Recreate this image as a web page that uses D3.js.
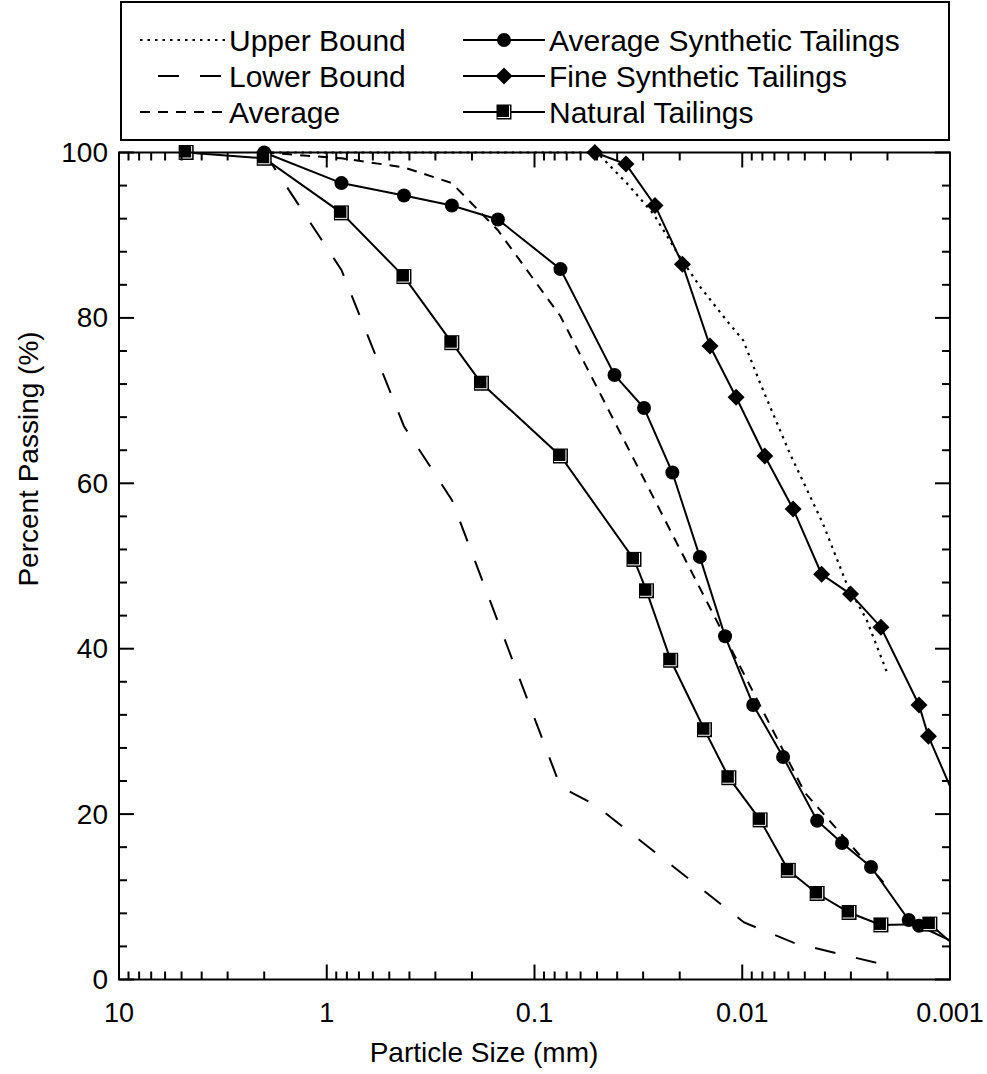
<!DOCTYPE html>
<html><head><meta charset="utf-8">
<script src="https://cdn.jsdelivr.net/npm/d3@7/dist/d3.min.js"></script>
<style>body{margin:0;background:#fff}svg{display:block}text{font-family:Arial,"Liberation Sans",sans-serif;fill:#000}</style>
</head><body>
<script>
// ---------- data ----------
const xTickValues = [10, 1, 0.1, 0.01, 0.001];
const xTickLabels = ["10", "1", "0.1", "0.01", "0.001"];
const yTickValues = [0, 20, 40, 60, 80, 100];

const sizeUpper = [2.0, 0.05, 0.036, 0.0268, 0.020, 0.016, 0.0119, 0.0099, 0.0082, 0.0059, 0.0041, 0.00315, 0.00252, 0.002];
const passUpper = [100, 100, 96.3, 92.6, 87.4, 83.8, 79.7, 77.3, 72.1, 63.6, 55.2, 47.9, 43.5, 37.0];

const sizeLower = [2.0, 0.85, 0.425, 0.25, 0.075, 0.051, 0.0098, 0.0056, 0.002];
const passLower = [100, 85.8, 66.9, 58.0, 23.3, 21.1, 6.9, 4.4, 1.7];

const sizeAverage = [2.0, 0.85, 0.425, 0.25, 0.15, 0.075, 0.005, 0.002];
const passAverage = [100, 99.3, 98.2, 96.3, 90.6, 80.2, 22.6, 11.2];

const sizeAvgSyn = [2.0, 0.85, 0.425, 0.25, 0.15, 0.075, 0.0412, 0.0297, 0.0217, 0.0160, 0.0121, 0.00886, 0.00636, 0.00436, 0.00331, 0.00240, 0.00158, 0.00141, 0.0009];
const passAvgSyn = [100, 96.3, 94.8, 93.6, 91.9, 85.9, 73.1, 69.1, 61.3, 51.1, 41.5, 33.2, 26.9, 19.2, 16.5, 13.6, 7.2, 6.5, 4.2];

const sizeFine = [0.0512, 0.0363, 0.0263, 0.0194, 0.0143, 0.0107, 0.00779, 0.00569, 0.00415, 0.00301, 0.00215, 0.00141, 0.00127, 0.0009];
const passFine = [100, 98.6, 93.6, 86.5, 76.6, 70.4, 63.3, 56.9, 49.0, 46.6, 42.6, 33.2, 29.4, 20.7];

const sizeNatural = [4.75, 2.0, 0.85, 0.425, 0.25, 0.18, 0.075, 0.0332, 0.0289, 0.0221, 0.0152, 0.0116, 0.0082, 0.0060, 0.00436, 0.00306, 0.00215, 0.00125, 0.0009];
const passNatural = [100, 99.3, 92.7, 85.0, 77.0, 72.1, 63.3, 50.8, 47.0, 38.6, 30.2, 24.4, 19.3, 13.2, 10.4, 8.1, 6.6, 6.7, 3.6];

const seriesNames = ["Upper Bound", "Lower Bound", "Average", "Average Synthetic Tailings", "Fine Synthetic Tailings", "Natural Tailings"];

// ---------- layout ----------
const W = 987, H = 1074;
const L = 119, R = 950, T = 152.5, B = 979.5;
const svg = d3.select("body").append("svg").attr("width", W).attr("height", H);

const x = d3.scaleLog().domain([10, 0.001]).range([L, R]);
const y = d3.scaleLinear().domain([0, 100]).range([B, T]);

svg.append("clipPath").attr("id", "clip").append("rect")
  .attr("x", L).attr("y", T - 12).attr("width", R - L).attr("height", B - T + 12);

const zip = (xs, ys) => xs.map((v, i) => [v, ys[i]]);
const line = d3.line().x(d => x(d[0])).y(d => y(d[1]));
const plot = svg.append("g").attr("clip-path", "url(#clip)");

const styles = {
  upper: {dash: "2.5,5", w: 2.2},
  lower: {dash: "21,21", w: 2},
  average: {dash: "10,8", w: 2},
  solid: {dash: null, w: 2}
};

function drawLine(data, st) {
  plot.append("path").datum(data).attr("d", line)
    .attr("fill", "none").attr("stroke", "#000")
    .attr("stroke-width", st.w).attr("stroke-dasharray", st.dash);
}
drawLine(zip(sizeUpper, passUpper), styles.upper);
drawLine(zip(sizeLower, passLower), styles.lower);
drawLine(zip(sizeAverage, passAverage), styles.average);
drawLine(zip(sizeAvgSyn, passAvgSyn), styles.solid);
drawLine(zip(sizeFine, passFine), styles.solid);
drawLine(zip(sizeNatural, passNatural), styles.solid);

function marker(g, type, cx, cy) {
  if (type === "circle") {
    g.append("circle").attr("cx", cx).attr("cy", cy).attr("r", 7).attr("fill", "#000");
  } else if (type === "diamond") {
    const s = 8.5;
    g.append("path").attr("d", `M${cx},${cy - s}L${cx + s},${cy}L${cx},${cy + s}L${cx - s},${cy}Z`).attr("fill", "#000");
  } else {
    const s = 7.5;
    g.append("rect").attr("x", cx - s).attr("y", cy - s).attr("width", 2 * s).attr("height", 2 * s).attr("fill", "#000");
    g.append("path").attr("d", `M${cx - s + 1},${cy + s - 2}H${cx + s - 2}V${cy - s + 1}`)
      .attr("fill", "none").attr("stroke", "#fff").attr("stroke-width", 1);
  }
}
const mk = svg.append("g");
function drawMarkers(xs, ys, type) {
  zip(xs, ys).filter(d => d[0] >= 0.001).forEach(d => marker(mk, type, x(d[0]), y(d[1])));
}
drawMarkers(sizeAvgSyn, passAvgSyn, "circle");
drawMarkers(sizeFine, passFine, "diamond");
drawMarkers(sizeNatural, passNatural, "square");

// ---------- axes / frame ----------
const ax = svg.append("g").attr("stroke", "#000").attr("stroke-width", 2);
ax.append("rect").attr("x", L).attr("y", T).attr("width", R - L).attr("height", B - T).attr("fill", "none");

const xMinor = [];
[1, 0.1, 0.01, 0.001].forEach(dec => { for (let k = 2; k <= 9; k++) xMinor.push(dec * k); });
xMinor.forEach(v => {
  const px = x(v);
  ax.append("line").attr("x1", px).attr("x2", px).attr("y1", B).attr("y2", B - 8);
  ax.append("line").attr("x1", px).attr("x2", px).attr("y1", T).attr("y2", T + 8);
});
xTickValues.forEach(v => {
  const px = x(v);
  ax.append("line").attr("x1", px).attr("x2", px).attr("y1", B).attr("y2", B - 15);
  ax.append("line").attr("x1", px).attr("x2", px).attr("y1", T).attr("y2", T + 15);
});
d3.range(0, 101, 4).forEach(v => {
  const major = v % 20 === 0;
  const len = major ? 15 : 8;
  const py = y(v);
  ax.append("line").attr("x1", L).attr("x2", L + len).attr("y1", py).attr("y2", py);
  ax.append("line").attr("x1", R).attr("x2", R - len).attr("y1", py).attr("y2", py);
});

const fs = 27;
xTickValues.forEach((v, i) => {
  svg.append("text").attr("x", x(v)).attr("y", B + 42).attr("text-anchor", "middle")
    .attr("font-size", fs).text(xTickLabels[i]);
});
yTickValues.forEach(v => {
  svg.append("text").attr("x", L - 11).attr("y", y(v) + 9.5).attr("text-anchor", "end")
    .attr("font-size", 28).text(String(v));
});
svg.append("text").attr("x", 484).attr("y", B + 82).attr("text-anchor", "middle")
  .attr("font-size", 28).text("Particle Size (mm)");
svg.append("text").attr("transform", `translate(38,459) rotate(-90)`).attr("text-anchor", "middle")
  .attr("font-size", 28).text("Percent Passing (%)");

// ---------- legend ----------
const lg = svg.append("g");
lg.append("rect").attr("x", 121).attr("y", 2).attr("width", 828).attr("height", 138)
  .attr("fill", "#fff").attr("stroke", "#000").attr("stroke-width", 2);
const rowsY = [40, 76, 112];
const lfs = 30;
const legendItems = [
  {name: seriesNames[0], col: 0, row: 0, st: styles.upper, m: null, x1: 140, x2: 225},
  {name: seriesNames[1], col: 0, row: 1, st: styles.lower, m: null, x1: 158, x2: 222},
  {name: seriesNames[2], col: 0, row: 2, st: styles.average, m: null, x1: 140, x2: 225},
  {name: seriesNames[3], col: 1, row: 0, st: styles.solid, m: "circle", x1: 463, x2: 545},
  {name: seriesNames[4], col: 1, row: 1, st: styles.solid, m: "diamond", x1: 463, x2: 545},
  {name: seriesNames[5], col: 1, row: 2, st: styles.solid, m: "square", x1: 463, x2: 545}
];
legendItems.forEach(it => {
  const py = rowsY[it.row];
  lg.append("line").attr("x1", it.x1).attr("x2", it.x2).attr("y1", py).attr("y2", py)
    .attr("stroke", "#000").attr("stroke-width", it.st.w).attr("stroke-dasharray", it.st.dash);
  if (it.m) marker(lg, it.m, (it.x1 + it.x2) / 2, py);
  lg.append("text").attr("x", it.col === 0 ? 229 : 549).attr("y", py + 10.5)
    .attr("font-size", lfs).text(it.name);
});
</script>
</body></html>
